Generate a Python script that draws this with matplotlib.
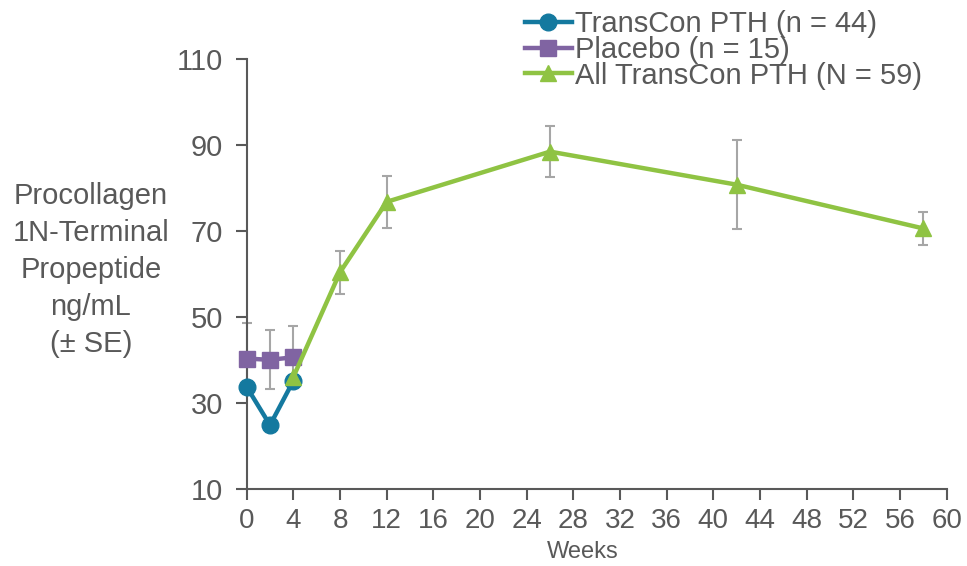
import matplotlib
matplotlib.use("Agg")
import matplotlib.pyplot as plt

# weeks on the x axis
weeks_transcon = [0, 2, 4]
weeks_placebo = [0, 2, 4]
weeks_all = [4, 8, 12, 26, 42, 58]

# P1NP ng/mL, mean and SE
p1np_transcon = [33.7, 24.8, 35.1]
p1np_placebo = [40.3, 40.0, 40.6]
se_placebo = [8.2, 6.9, 7.2]
p1np_all = [36.0, 60.4, 76.8, 88.5, 80.8, 70.6]
se_all = [0.0, 5.0, 6.1, 5.9, 10.4, 3.8]

labels = ["TransCon PTH (n = 44)", "Placebo (n = 15)", "All TransCon PTH (N = 59)"]
x_ticks = list(range(0, 61, 4))
y_ticks = [10, 30, 50, 70, 90, 110]

text_col = "#595959"
blue = "#14799F"
purple = "#8064A2"
green = "#8FC343"
err_col = "#A6A6A6"

plt.rcParams["font.family"] = ["Liberation Sans", "DejaVu Sans"]

fig = plt.figure(figsize=(9.67, 5.66), dpi=100)
ax = fig.add_axes([0.2551, 0.1367, 0.979 - 0.2551, 0.8952 - 0.1367])

ax.errorbar(weeks_placebo, p1np_placebo, yerr=se_placebo, fmt="none", ecolor=err_col,
            elinewidth=1.5, capsize=3.5, capthick=1.5, zorder=1, clip_on=False)
ax.errorbar(weeks_all[1:], p1np_all[1:], yerr=se_all[1:], fmt="none", ecolor=err_col,
            elinewidth=1.5, capsize=3.5, capthick=1.5, zorder=1, clip_on=False)

ax.plot(weeks_transcon, p1np_transcon, color=blue, marker="o", markersize=12, linewidth=3.2,
        label=labels[0], zorder=3, clip_on=False)
ax.plot(weeks_placebo, p1np_placebo, color=purple, marker="s", markersize=11, linewidth=3.2,
        label=labels[1], zorder=4, clip_on=False)
ax.plot(weeks_all, p1np_all, color=green, marker="^", markersize=12, linewidth=3.2,
        label=labels[2], zorder=5, clip_on=False)

ax.set_xlim(0, 60)
ax.set_ylim(10, 110)
ax.set_xticks(x_ticks)
ax.set_yticks(y_ticks)
ax.set_xticklabels([str(t) for t in x_ticks], fontsize=20, color=text_col)
ax.set_yticklabels([str(t) for t in y_ticks], fontsize=21, color=text_col)

for side in ["top", "right"]:
    ax.spines[side].set_visible(False)
for side in ["left", "bottom"]:
    ax.spines[side].set_color(text_col)
    ax.spines[side].set_linewidth(1.5)
ax.tick_params(direction="out", length=8, width=1.5, color=text_col, pad=6)
ax.tick_params(axis="y", pad=9)

fig.text(0.603, 0.025, "Weeks", ha="center", va="center", fontsize=17, color=text_col)
fig.text(0.094, 0.523, "Procollagen\n1N-Terminal\nPropeptide\nng/mL\n(± SE)", ha="center",
         va="center", fontsize=21, color=text_col, linespacing=1.42)

leg = ax.legend(loc="upper left", bbox_to_anchor=(0.543, 0.982), bbox_transform=fig.transFigure,
                frameon=False, fontsize=21, handlelength=1.6, handletextpad=0.1,
                borderpad=0, borderaxespad=0, labelspacing=-0.08)
for t in leg.get_texts():
    t.set_color(text_col)

fig.savefig("out.png", dpi=100)
